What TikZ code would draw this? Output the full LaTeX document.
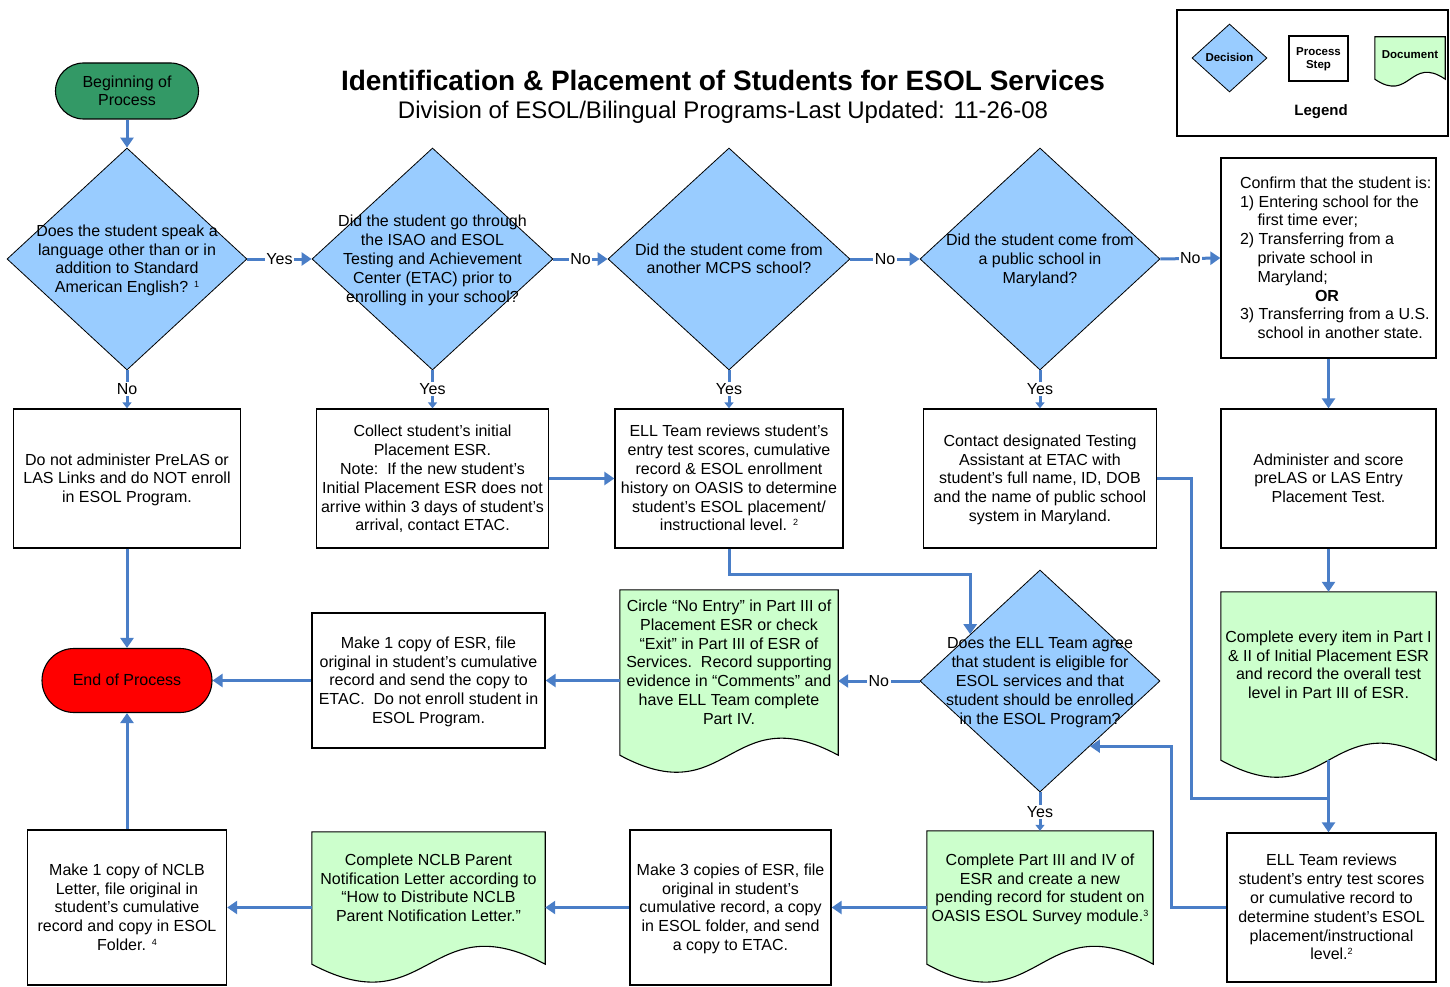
\documentclass[tikz,border=0pt]{standalone}
\usepackage{fontspec}
\setmainfont{Liberation Sans}
\usetikzlibrary{shapes.geometric,shapes.misc,arrows.meta,calc}
\pgfdeclarelayer{background}
\pgfsetlayers{background,main}

\definecolor{flowblue}{RGB}{74,126,199}
\definecolor{decfill}{RGB}{153,204,255}
\definecolor{docfill}{RGB}{204,255,204}
\definecolor{startgreen}{RGB}{51,153,102}
\definecolor{endred}{RGB}{255,0,0}

\newcommand{\bodyfont}{\fontsize{16}{18.8}\selectfont}
\newcommand{\legfont}{\bfseries\fontsize{11.5}{13}\selectfont}
% centred block of lines, optional upward offset (pt); takes no room in its node
\newcommand{\boxtext}[2][0]{\smash{\makebox[0pt]{\raisebox{-6pt}{\raisebox{#1pt}{\begin{tabular}{@{}c@{}}#2\end{tabular}}}}}}
\newcommand{\fnmark}[1]{\raisebox{5pt}{\fontsize{9}{9}\selectfont #1}}
% document symbol: rectangle with a wavy lower edge, drawn behind its node
\newcommand{\docshape}[2]{%
  \begin{pgfonlayer}{background}
    \path[docline] (#1.north west) -- (#1.north east) -- (#1.south east)
      .. controls ($(#1.south)+(0,-#2)$) and ($(#1.south)+(0,#2)$) .. (#1.south west) -- cycle;
  \end{pgfonlayer}}

\tikzset{
  box/.style={rectangle, draw=black, line width=1.3pt, fill=white, inner sep=0pt, font=\bodyfont},
  dec/.style={diamond, draw=black, line width=0.8pt, fill=decfill, inner sep=0pt, font=\bodyfont},
  docnode/.style={rectangle, inner sep=0pt, font=\bodyfont},
  docline/.style={draw=black, line width=1.1pt, fill=docfill},
  term/.style={rounded rectangle, draw=black, line width=1.1pt, inner sep=0pt, font=\bodyfont},
  conn/.style={draw=flowblue, line width=3pt},
  arr/.style={conn, -{Triangle[width=13pt,length=10pt]}},
  arrsmall/.style={conn, -{Triangle[width=9pt,length=6pt]}},
  lbl/.style={fill=white, inner sep=1.5pt, font=\bodyfont, text=black},
}

\begin{document}
\begin{tikzpicture}[x=1pt,y=-1pt]
\useasboundingbox (0,0) rectangle (1450,987);

% heading
\node[font=\bfseries\fontsize{28}{33}\selectfont, anchor=base] (title) at (723,91)
  {Identification \& Placement of Students for ESOL Services};
\node[font=\fontsize{24}{28}\selectfont, anchor=base] (subtitle) at (723,119)
  {Division of ESOL/Bilingual Programs-Last Updated: 11-26-08};

% legend
\node[rectangle, draw=black, line width=1.5pt, minimum width=271pt, minimum height=126pt, inner sep=0pt] (legend) at (1312.5,73) {};
\node[dec, minimum width=75pt, minimum height=68pt, font=\legfont] (legdec) at (1229.5,58) {\boxtext[2]{Decision}};
\node[box, minimum width=59pt, minimum height=45pt, font=\legfont] (legproc) at (1318.5,58.5) {\boxtext[2]{Process\\Step}};
\node[docnode, minimum width=70pt, minimum height=42pt, font=\legfont] (legdoc) at (1410,58) {\boxtext[5]{Document}};
\docshape{legdoc}{24}
\node[font=\bfseries\fontsize{15}{18}\selectfont, anchor=base] (legtitle) at (1321,115.5) {Legend};

% terminals
\node[term, fill=startgreen, minimum width=143pt, minimum height=56pt] (start) at (127,91) {\boxtext{Beginning of\\Process}};
\node[term, fill=endred, minimum width=170pt, minimum height=64pt] (endp) at (127,680.5) {\boxtext{End of Process}};

% first row of decisions
\node[dec, minimum width=240pt, minimum height=222pt] (d1) at (127,259)
  {\boxtext{Does the student speak a\\language other than or in\\addition to Standard\\American English? \fnmark{1}}};
\node[dec, minimum width=241pt, minimum height=222pt] (d2) at (432.5,259)
  {\boxtext{Did the student go through\\the ISAO and ESOL\\Testing and Achievement\\Center (ETAC) prior to\\enrolling in your school?}};
\node[dec, minimum width=242pt, minimum height=222pt] (d3) at (729,259)
  {\boxtext{Did the student come from\\another MCPS school?}};
\node[dec, minimum width=240pt, minimum height=222pt] (d4) at (1040,259)
  {\boxtext{Did the student come from\\a public school in\\Maryland?}};
\node[box, minimum width=215pt, minimum height=200pt] (conf) at (1328.5,258)
  {\smash{\makebox[0pt][l]{\hspace*{-88.5pt}\raisebox{-6pt}{\begin{tabular}{@{}l@{}}%
   Confirm that the student is:\\
   1) Entering school for the\\
   \hspace*{17.5pt}first time ever;\\
   2) Transferring from a\\
   \hspace*{17.5pt}private school in\\
   \hspace*{17.5pt}Maryland;\\
   \hspace*{75pt}\textbf{OR}\\
   3) Transferring from a U.S.\\
   \hspace*{17.5pt}school in another state.\end{tabular}}}}};

% second row
\node[box, minimum width=227pt, minimum height=139pt] (b1) at (127,478.5)
  {\boxtext{Do not administer PreLAS or\\LAS Links and do NOT enroll\\in ESOL Program.}};
\node[box, minimum width=232pt, minimum height=139pt] (b2) at (432.5,478.5)
  {\boxtext{Collect student's initial\\Placement ESR.\\Note:\ \ If the new student's\\Initial Placement ESR does not\\arrive within 3 days of student's\\arrival, contact ETAC.}};
\node[box, minimum width=228pt, minimum height=139pt] (b3) at (729,478.5)
  {\boxtext{ELL Team reviews student's\\entry test scores, cumulative\\record \& ESOL enrollment\\history on OASIS to determine\\student's ESOL placement/\\instructional level. \fnmark{2}}};
\node[box, minimum width=233pt, minimum height=139pt] (b4) at (1040,478.5)
  {\boxtext{Contact designated Testing\\Assistant at ETAC with\\student's full name, ID, DOB\\and the name of public school\\system in Maryland.}};
\node[box, minimum width=215pt, minimum height=139pt] (b5) at (1328.5,478.5)
  {\boxtext{Administer and score\\preLAS or LAS Entry\\Placement Test.}};

% third row
\node[docnode, minimum width=215pt, minimum height=168pt] (docA) at (1328.5,676)
  {\boxtext[11]{Complete every item in Part I\\\& II of Initial Placement ESR\\and record the overall test\\level in Part III of ESR.}};
\docshape{docA}{59}
\node[dec, minimum width=240pt, minimum height=222pt] (d5) at (1040,681)
  {\boxtext{Does the ELL Team agree\\that student is eligible for\\ESOL services and that\\student should be enrolled\\in the ESOL Program?}};
\node[docnode, minimum width=218pt, minimum height=165pt] (docB) at (729,672.5)
  {\boxtext[10]{Circle ``No Entry'' in Part III of\\Placement ESR or check\\``Exit'' in Part III of ESR of\\Services.\ \ Record supporting\\evidence in ``Comments'' and\\have ELL Team complete\\Part IV.}};
\docshape{docB}{59}
\node[box, minimum width=233pt, minimum height=135pt] (b7) at (428.5,680.5)
  {\boxtext{Make 1 copy of ESR, file\\original in student's cumulative\\record and send the copy to\\ETAC.\ \ Do not enroll student in\\ESOL Program.}};

% bottom row
\node[box, minimum width=199pt, minimum height=155pt] (b8) at (127,907.5)
  {\boxtext{Make 1 copy of NCLB\\Letter, file original in\\student's cumulative\\record and copy in ESOL\\Folder. \fnmark{4}}};
\node[docnode, minimum width=233pt, minimum height=132pt] (docC) at (428.5,898)
  {\boxtext[10]{Complete NCLB Parent\\Notification Letter according to\\``How to Distribute NCLB\\Parent Notification Letter.''}};
\docshape{docC}{62}
\node[box, minimum width=201pt, minimum height=155pt] (b9) at (730.5,907.5)
  {\boxtext{Make 3 copies of ESR, file\\original in student's\\cumulative record, a copy\\in ESOL folder, and send\\a copy to ETAC.}};
\node[docnode, minimum width=226pt, minimum height=133pt] (docD) at (1040,897.5)
  {\boxtext[9.5]{Complete Part III and IV of\\ESR and create a new\\pending record for student on\\OASIS ESOL Survey module.\fnmark{3}}};
\docshape{docD}{62}
\node[box, minimum width=209pt, minimum height=149pt] (b6) at (1331.5,907.5)
  {\boxtext{ELL Team reviews\\student's entry test scores\\or cumulative record to\\determine student's ESOL\\placement/instructional\\level.\fnmark{2}}};

% connectors
\coordinate (jn) at (1328.5,798);
\draw[arr] (start.south) -- (d1.north);
\draw[arr] (d1.east) -- node[lbl]{Yes} (d2.west);
\draw[arr] (d2.east) -- node[lbl]{No} (d3.west);
\draw[arr] (d3.east) -- node[lbl]{No} (d4.west);
\draw[arr] (d4.east) -- node[lbl]{No} (conf.west);
\draw[arrsmall] (d1.south) -- node[lbl]{No} (b1.north);
\draw[arrsmall] (d2.south) -- node[lbl]{Yes} (b2.north);
\draw[arrsmall] (d3.south) -- node[lbl]{Yes} (b3.north);
\draw[arrsmall] (d4.south) -- node[lbl]{Yes} (b4.north);
\draw[arr] (conf.south) -- (b5.north);
\draw[arr] (b5.south) -- (docA.north);
\draw[arr] (b2.east) -- (b3.west);
\draw[arr] (b1.south) -- (endp.north);
\draw[arr] (b3.south) -- ++(0,26) -| ($(d5.west)!0.42!(d5.north)$);
\draw[conn] (b4.east) -- ++(34,0) |- (jn);
\draw[arr] (docA.south) -- (docA.south |- b6.north);
\draw[arr] (b6.west) -- ++(-55,0) |- ($(d5.east)!0.585!(d5.south)$);
\draw[arr] (d5.west) -- node[lbl]{No} (d5.west -| docB.east);
\draw[arr] (b7.east -| docB.west) -- (b7.east);
\draw[arr] (b7.west) -- (endp.east);
\draw[arr] (b8.north) -- (endp.south);
\draw[arrsmall] (d5.south) -- node[lbl]{Yes} (docD.north);
\draw[arr] (b9.east -| docD.west) -- (b9.east);
\draw[arr] (b9.west) -- (b9.west -| docC.east);
\draw[arr] (b8.east -| docC.west) -- (b8.east);
\end{tikzpicture}
\end{document}
